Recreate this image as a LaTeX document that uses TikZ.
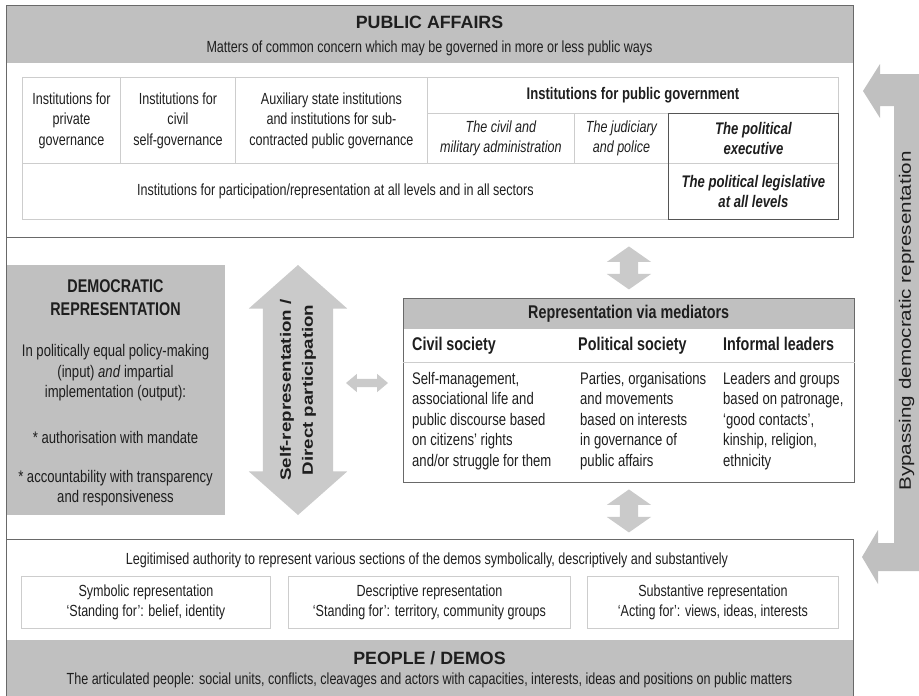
\documentclass[tikz,border=0pt]{standalone}
\usepackage{fontspec}
\setmainfont{Liberation Sans}
\newfontfamily\narrowfam[FakeStretch=0.78]{Liberation Sans}
\newfontfamily\widefam[FakeStretch=1.25]{Liberation Sans}
\usetikzlibrary{shapes.arrows, fit, calc, positioning}

\definecolor{hdrgray}{RGB}{192,192,192}
\definecolor{arrowgray}{RGB}{202,202,202}
\definecolor{bypassgray}{RGB}{192,192,192}
\definecolor{framegray}{RGB}{105,105,105}
\definecolor{cellgray}{RGB}{205,205,205}
\definecolor{darkline}{RGB}{85,85,85}
\definecolor{inkgray}{RGB}{30,30,30}

\newcommand{\celltext}{\narrowfam\fontsize{16.1}{20.5}\selectfont}
\newcommand{\cellbold}{\narrowfam\bfseries\fontsize{16.8}{20.5}\selectfont}
\newcommand{\midtext}{\narrowfam\fontsize{16.8}{20.5}\selectfont}
\newcommand{\subhead}{\narrowfam\bfseries\fontsize{18.4}{23}\selectfont}
\newcommand{\bigtitle}{\bfseries\fontsize{17.8}{21}\selectfont}
\newcommand{\widebold}{\widefam\bfseries\fontsize{15}{22}\selectfont}
\newcommand{\widetext}{\widefam\fontsize{16.5}{20}\selectfont}

\tikzset{
	framebox/.style={draw=framegray, line width=0.9pt, anchor=north west, inner sep=0pt},
	headfill/.style={fill=hdrgray, anchor=north west, inner sep=0pt},
	cell/.style={draw=cellgray, line width=0.9pt, anchor=north west, inner sep=1pt, align=center, font=\celltext, text=inkgray},
	blockarrow/.style={double arrow, fill=arrowgray, inner xsep=0pt, double arrow head indent=0pt},
	lbl/.style={text=inkgray, inner sep=0pt},
}

\begin{document}
\begin{tikzpicture}[x=1pt, y=-1pt]
	\useasboundingbox (0,0) rectangle (919,696);
	% Public affairs
	\node[headfill, minimum width=847, minimum height=58] (pubhead) at (6,5) {};
	\node[framebox, minimum width=847, minimum height=232] (pubaff) at (6,5) {};
	\node[lbl, font=\bigtitle] (pubtitle) at (429.5,22) {PUBLIC AFFAIRS};
	\node[lbl, font=\celltext] (pubsub) at (429.5,48) {Matters of common concern which may be governed in more or less public ways};
	% Institutions table
	\node[cell, minimum width=98, minimum height=86] (privgov) at (22,77) {Institutions for\\private\\governance};
	\node[cell, minimum width=115, minimum height=86] (civgov) at (120,77) {Institutions for\\civil\\self-governance};
	\node[cell, minimum width=192, minimum height=86] (auxgov) at (235,77) {Auxiliary state institutions\\and institutions for sub-\\contracted public governance};
	\node[cell, minimum width=411, minimum height=36, font=\cellbold] (pubgov) at (427,77) {Institutions for public government};
	\node[cell, minimum width=147, minimum height=50, font=\celltext\itshape] (civadm) at (427,113) {The civil and\\military administration};
	\node[cell, minimum width=94, minimum height=50, font=\celltext\itshape] (judic) at (574,113) {The judiciary\\and police};
	\node[cell, minimum width=170, minimum height=50, font=\cellbold\itshape] (execpol) at (668,113) {The political\\executive};
	\node[cell, minimum width=646, minimum height=56] (partic) at (22,163) {Institutions for participation/representation at all levels and in all sectors\hspace*{20pt}};
	\node[cell, minimum width=170, minimum height=56, font=\cellbold\itshape] (legis) at (668,163) {The political legislative\\at all levels};
	\node[draw=darkline, line width=0.9pt, fit=(execpol)(legis), inner sep=0pt] (polbox) {};
	% Democratic representation
	\node[headfill, minimum width=219, minimum height=250] (demrep) at (6,265) {};
	\node[lbl, font=\subhead, align=center] (demtitle) at (115.5,298) {DEMOCRATIC\\REPRESENTATION};
	\node[lbl, font=\midtext, align=center] (demtxt) at (115.5,373) {In politically equal policy-making\\(input) \textit{and} impartial\\implementation (output):};
	\node[lbl, font=\midtext] (demauth) at (115.5,437) {* authorisation with mandate};
	\node[lbl, font=\midtext, align=center] (demacc) at (115.5,488) {* accountability with transparency\\and responsiveness};
	% Self-representation arrow
	\node[blockarrow, rotate=90, minimum height=250, minimum width=98, inner ysep=35, double arrow head extend=14, double arrow tip angle=97] (selfpart) at (298,390) {};
	\node[lbl, rotate=90, font=\widebold, align=center] (selftxt) at (selfpart.center) {Self-representation /\\Direct participation};
	\node[blockarrow, minimum height=42, minimum width=18, inner ysep=4, double arrow head extend=5, double arrow tip angle=80] (lrarrow) at (367,383) {};
	% Mediators
	\node[headfill, minimum width=451, minimum height=31] (medhead) at (403,298) {};
	\node[framebox, minimum width=451, minimum height=184] (medbox) at (403,298) {};
	\node[lbl, font=\subhead] (medtitle) at (medhead.center) {Representation via mediators};
	\draw[draw=cellgray, line width=0.9pt] ($(medbox.north west)+(0,64)$) -- ($(medbox.north east)+(0,64)$);
	\node[lbl, font=\subhead, anchor=base west] (civsoc) at (412,350) {Civil society};
	\node[lbl, font=\subhead, anchor=base west] (polsoc) at (578,350) {Political society};
	\node[lbl, font=\subhead, anchor=base west] (infled) at (723,350) {Informal leaders};
	\node[lbl, font=\midtext, anchor=west, align=left] (civtxt) at (412,421) {Self-management,\\associational life and\\public discourse based\\on citizens’ rights\\and/or struggle for them};
	\node[lbl, font=\midtext, anchor=west, align=left] (poltxt) at (580,421) {Parties, organisations\\and movements\\based on interests\\in governance of\\public affairs};
	\node[lbl, font=\midtext, anchor=west, align=left] (inftxt) at (723,421) {Leaders and groups\\based on patronage,\\‘good contacts’,\\kinship, religion,\\ethnicity};
	% People / demos
	\node[headfill, minimum width=847, minimum height=56] (demosfoot) at (6,640) {};
	\node[framebox, minimum width=847, minimum height=157] (demos) at (6,539) {};
	\node[lbl, font=\celltext] (legit) at (427,560) {Legitimised authority to represent various sections of the demos symbolically, descriptively and substantively};
	\node[cell, minimum width=249, minimum height=52] (symrep) at (21,576) {Symbolic representation\\‘Standing for’: belief, identity};
	\node[cell, minimum width=282, minimum height=52] (descrep) at (288,576) {Descriptive representation\\‘Standing for’: territory, community groups};
	\node[cell, minimum width=251, minimum height=52] (substrep) at (587,576) {Substantive representation\\‘Acting for’: views, ideas, interests};
	\node[lbl, font=\bigtitle] (demostitle) at (429.5,658) {PEOPLE / DEMOS};
	\node[lbl, font=\celltext] (demossub) at (429.5,680) {The articulated people: social units, conflicts, cleavages and actors with capacities, interests, ideas and positions on public matters};
	\draw[draw=framegray, line width=0.9pt] (pubaff.south west) -- (demos.north west);
	% Arrows between the levels
	\node[blockarrow, rotate=90, minimum height=43, minimum width=44, inner ysep=9, double arrow head extend=13, double arrow tip angle=110] (uparrow) at ($(medbox.north)!0.5!(medbox.north |- pubaff.south)$) {};
	\node[blockarrow, rotate=90, minimum height=43, minimum width=44, inner ysep=9, double arrow head extend=13, double arrow tip angle=110] (downarrow) at ($(medbox.south)!0.5!(medbox.south |- demos.north)$) {};
	% Bypassing
	\fill[bypassgray] (863,91) -- (880,64) -- (880,74) -- (919,74) -- (919,571) -- (878,571) -- (878,584) -- (862,557) -- (878,530) -- (878,543) -- (894,543) -- (894,106) -- (880,106) -- (880,118) -- cycle;
	\node[lbl, rotate=90, font=\widetext] (bypass) at (906.5,321) {Bypassing democratic representation};
\end{tikzpicture}
\end{document}
